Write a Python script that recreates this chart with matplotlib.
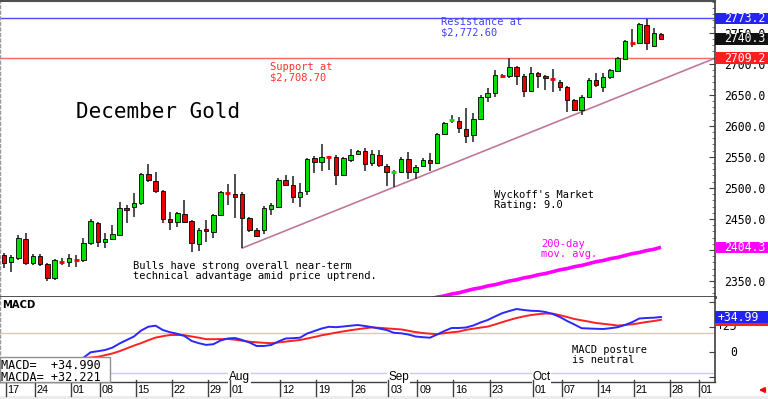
import numpy as np
import matplotlib
matplotlib.use('Agg')
import matplotlib.pyplot as plt
import matplotlib.transforms as mtransforms
from matplotlib.patches import Rectangle
from matplotlib.lines import Line2D
from matplotlib.ticker import MultipleLocator

W, H = 768, 399
MONO = 'DejaVu Sans Mono'
SANS = 'Liberation Sans'

# trading-day index of each date tick (Jun 17 = 0)
tick_idx = [0, 4, 9, 13, 18, 23, 28, 31, 38, 43, 48, 53, 57, 62, 67, 73, 77, 82, 87, 92, 96]
tick_lbl = ['17', '24', '01', '08', '15', '22', '29', '01', '12', '19', '26',
            '03', '09', '16', '23', '01', '07', '14', '21', '28', '01']
month_idx = [31, 53, 73]
month_lbl = ['Aug', 'Sep', 'Oct']

opens = [2392, 2380, 2387, 2418, 2379, 2390, 2377, 2355, 2381, 2380,
         2386, 2384, 2411, 2443, 2413, 2418, 2424, 2468, 2469, 2476,
         2522, 2511, 2495, 2450, 2445, 2458, 2446, 2409, 2434, 2429,
         2456, 2493, 2490, 2490, 2451, 2432, 2432, 2466, 2469, 2513,
         2505, 2485, 2495, 2548, 2542, 2550, 2550, 2521, 2545, 2555,
         2559, 2540, 2553, 2535, 2525, 2526, 2547, 2526, 2535, 2545,
         2540, 2587, 2607, 2608, 2595, 2585, 2611, 2646, 2653, 2683,
         2680, 2695, 2680, 2656, 2685, 2680, 2676, 2671, 2663, 2642,
         2626, 2647, 2674, 2663, 2679, 2688, 2708, 2736, 2734, 2763,
         2729, 2748]
highs = [2395, 2392, 2424, 2427, 2393, 2393, 2379, 2385, 2387, 2393,
         2392, 2419, 2450, 2445, 2427, 2440, 2477, 2472, 2492, 2524,
         2538, 2526, 2497, 2461, 2461, 2480, 2448, 2435, 2448, 2458,
         2495, 2506, 2522, 2493, 2453, 2435, 2471, 2476, 2516, 2521,
         2519, 2508, 2548, 2551, 2571, 2551, 2553, 2550, 2563, 2561,
         2564, 2561, 2561, 2538, 2529, 2550, 2558, 2537, 2548, 2556,
         2588, 2606, 2618, 2614, 2629, 2621, 2650, 2661, 2690, 2684,
         2709, 2696, 2684, 2695, 2686, 2682, 2692, 2674, 2664, 2643,
         2650, 2677, 2685, 2685, 2692, 2711, 2738, 2756, 2766, 2772.6,
         2758, 2750]
lows = [2371, 2364, 2384, 2376, 2376, 2374, 2350, 2351, 2376, 2372,
        2372, 2380, 2408, 2405, 2403, 2416, 2422, 2443, 2453, 2472,
        2509, 2492, 2443, 2432, 2437, 2443, 2397, 2398, 2413, 2419,
        2455, 2472, 2451, 2403, 2429, 2421, 2426, 2456, 2467, 2503,
        2476, 2469, 2489, 2524, 2527, 2529, 2505, 2519, 2542, 2553,
        2527, 2535, 2534, 2503, 2501, 2524, 2514, 2514, 2534, 2527,
        2538, 2585, 2605, 2588, 2572, 2574, 2609, 2638, 2647, 2677,
        2677, 2666, 2647, 2655, 2661, 2658, 2655, 2656, 2622, 2624,
        2618, 2645, 2663, 2655, 2676, 2687, 2706, 2727, 2733, 2722,
        2727, 2738]
closes = [2379, 2389, 2419, 2379, 2390, 2377, 2355, 2384, 2380, 2387,
          2384, 2411, 2447, 2413, 2418, 2426, 2468, 2464, 2476, 2522,
          2513, 2495, 2450, 2445, 2459, 2445, 2411, 2432, 2430, 2456,
          2493, 2491, 2485, 2451, 2432, 2422, 2468, 2472, 2513, 2505,
          2485, 2493, 2547, 2542, 2550, 2549, 2521, 2548, 2553, 2559,
          2538, 2555, 2537, 2526, 2526, 2547, 2526, 2534, 2545, 2540,
          2587, 2605, 2609, 2597, 2584, 2611, 2647, 2653, 2682, 2681,
          2695, 2680, 2656, 2685, 2680, 2677, 2675, 2663, 2642, 2626,
          2647, 2674, 2666, 2679, 2690, 2709, 2737, 2734, 2764, 2734,
          2750, 2740.3]

# 200-day moving average, from day 58 on
ma_start = 58
ma200 = [2318, 2321, 2324, 2326, 2329, 2331, 2334, 2337, 2339, 2342,
         2344, 2347, 2350, 2352, 2355, 2357, 2360, 2362, 2365, 2368,
         2370, 2373, 2375, 2378, 2381, 2383, 2386, 2388, 2391, 2394,
         2396, 2399, 2401, 2404.3]

macd = [-28, -27, -25, -24, -22, -20, -20, -18, -16, -13,
        -10, -5.7, -0.3, 0.8, 2, 4.3, 8.5, 12, 15.5, 21.5,
        25.3, 26.3, 22, 19.8, 18.2, 16, 11, 8.8, 7.1, 7.8,
        11.5, 13.5, 14, 12, 9.5, 6, 6, 7, 10.5, 13.5,
        13.8, 14.3, 18.5, 21, 23.5, 25.2, 24.8, 25.5, 26.3, 27,
        26, 24.8, 23.4, 22, 19.2, 18.7, 17.5, 15.5, 14.8, 14.3,
        17.5, 21, 24, 24, 24.5, 26.5, 29.5, 32, 35.5, 38.8,
        41, 43, 42, 41.2, 41, 40, 38, 35, 31, 27.5,
        23.8, 23.5, 23.2, 23, 23.8, 24.8, 27, 29.8, 33.5, 34,
        34.3, 34.99]
macda = [-22, -21, -20, -19, -18, -17, -16, -14, -12, -10,
         -8, -6.3, -5.5, -4.8, -3.2, -1.5, 0.8, 3.6, 6.4, 8.9,
         11.8, 14.4, 15.8, 17, 17, 16.8, 15.5, 14.3, 12.8, 12.8,
         12.9, 13, 12.3, 11.2, 10.3, 9.7, 9.2, 8.8, 9.5, 10.4,
         11.2, 12, 13.5, 15, 16.7, 18, 19.4, 20.6, 21.8, 22.8,
         23.8, 24.6, 24.2, 23.6, 23.1, 22.6, 21.3, 19.9, 19, 18.3,
         17.9, 18.8, 19.7, 20.4, 22.2, 23.3, 24.4, 25.4, 27.5, 29.8,
         32, 34, 35.6, 37, 37.8, 38.5, 38.4, 36.8, 35, 33,
         31.7, 30.4, 29, 28.2, 27.4, 26.4, 27.1, 27.7, 28.8, 30,
         31, 32.221]

resistance = 2773.2
support = 2709.2
trend_x = [33, 98.5]
trend_y = [2403, 2709]

price_marks = [2773.2, 2740.3, 2709.2, 2404.3]
price_cols = ['#2323F5', '#111111', '#FF1E1E', '#FF00FF']


def fx(px):
    return px / W


def fy(py):
    return 1 - py / H


fig = plt.figure(figsize=(W / 100, H / 100), dpi=100)
ax = fig.add_axes([0, fy(297), fx(715), (297 - 0.5) / H])
am = fig.add_axes([0, fy(381.5), fx(715), (381.5 - 297) / H])

# candles
idx = np.arange(len(closes))
o = np.array(opens, float)
c = np.array(closes, float)
hi = np.array(highs, float)
lo = np.array(lows, float)
body = np.abs(c - o)
doji = body < 3
fill = np.where(c >= o, '#00E000', '#E80000')

ax.vlines(idx, lo, hi, color='#303030', lw=1.2, zorder=2)
nd = ~doji
ax.bar(idx[nd], body[nd], bottom=np.minimum(o, c)[nd], width=0.62,
       color=fill[nd], edgecolor='black', lw=0.6, zorder=3)
ax.hlines(c[doji], idx[doji] - 0.36, idx[doji] + 0.36, colors=fill[doji], lw=2, zorder=3)

ax.axhline(resistance, color='#4B4BFF', lw=1, zorder=1)
ax.axhline(support, color='#FF6464', lw=1, zorder=1)
ax.plot(trend_x, trend_y, color='#C07898', lw=1.2, zorder=1)
ax.plot(np.arange(ma_start, ma_start + len(ma200)), ma200, color='#FF00FF', lw=2.6,
        solid_capstyle='butt', zorder=2)

ax.set_xlim(-0.554, 98.48)
ax.set_ylim(2324.2, 2801.9)
ax.set_xticks([])
ax.yaxis.tick_right()
yt = np.arange(2350, 2751, 50)
ax.set_yticks(yt)
# 2400.0 sits fully under the 200-day value box in the original
ax.set_yticklabels(['' if v == 2400 else f'{v:.1f}' for v in yt], fontfamily=MONO)
ax.yaxis.set_minor_locator(MultipleLocator(10))
ax.tick_params(axis='y', which='major', direction='in', length=4, pad=6.5,
               labelsize=8.3, color='#404040')
ax.tick_params(axis='y', which='minor', direction='in', length=2, color='#606060')
ax.spines['top'].set(color='#505050', lw=1.5)
ax.spines['bottom'].set(color='#404040', lw=2)
ax.spines['right'].set(color='#404040', lw=1.2)
ax.spines['left'].set(color='#999999', lw=1, linestyle=(0, (2, 2)))

tr_r = mtransforms.blended_transform_factory(fig.transFigure, ax.transData)
for v, col in zip(price_marks, price_cols):
    fig.add_artist(Rectangle((fx(715), v - 9.3), fx(768) - fx(715), 18.6, transform=tr_r,
                             facecolor=col, edgecolor='none', zorder=5))
    fig.text(fx(724), v, f'{v:.1f}', transform=tr_r, color='white', ha='left',
             va='center', fontsize=8.3, fontfamily=MONO, zorder=6)

# MACD panel
am.axhline(19, color='#FFB4B4', lw=0.9, zorder=1)
am.axhline(-21, color='#C8C8FF', lw=1, zorder=1)
am.plot(idx, macd, color='#2828FF', lw=1.4, zorder=3)
am.plot(idx, macda, color='#FF2020', lw=1.4, zorder=2)
am.set_xlim(-0.554, 98.48)
am.set_ylim(-29.5, 55)
am.set_xticks([])
am.yaxis.tick_right()
am.set_yticks([-25, 0, 25, 50])
am.set_yticklabels([])
am.tick_params(axis='y', direction='in', length=4, color='#404040')
am.spines['top'].set_visible(False)
am.spines['bottom'].set(color='#404040', lw=1)
am.spines['right'].set(color='#404040', lw=1.2)
am.spines['left'].set(color='#999999', lw=1, linestyle=(0, (2, 2)))

for mi, ml in zip(month_idx, month_lbl):
    am.text(mi + 0.2, -25, ml, ha='left', va='center', fontsize=8.5, fontfamily=SANS,
            bbox=dict(facecolor='white', edgecolor='none', pad=0.6), zorder=4)

tr_m = mtransforms.blended_transform_factory(fig.transFigure, am.transData)
fig.text(fx(737), 0, '0', transform=tr_m, ha='right', va='center', fontsize=8.3, fontfamily=MONO)
fig.text(fx(737), 25, '+25', transform=tr_m, ha='right', va='center', fontsize=8.3, fontfamily=MONO)
for v, col in [(32.221, '#FF1E1E'), (34.99, '#2323F5')]:
    fig.add_artist(Rectangle((fx(715), v - 5.8), fx(768) - fx(715), 11.6, transform=tr_m,
                             facecolor=col, edgecolor='none', zorder=5))
fig.text(fx(717), 34.99, '+34.99', transform=tr_m, color='white', ha='left', va='center',
         fontsize=8.3, fontfamily=MONO, zorder=6)

fig.text(fx(2), fy(299.5), 'MACD', ha='left', va='top', fontsize=7.2, fontweight='bold',
         fontfamily='DejaVu Sans')
fig.add_artist(Rectangle((0, fy(382)), fx(110), (382 - 357) / H, transform=fig.transFigure,
                         facecolor='white', edgecolor='#909090', lw=1, zorder=5))
fig.text(fx(1), fy(359), 'MACD=  +34.990\nMACDA= +32.221', ha='left', va='top',
         fontsize=8.5, fontfamily=MONO, linespacing=0.92, zorder=6)

# date row
tr_d = mtransforms.blended_transform_factory(am.transData, fig.transFigure)
for t, lb in zip(tick_idx, tick_lbl):
    fig.add_artist(Line2D([t + 0.25, t + 0.25], [fy(379.5), fy(396)], transform=tr_d,
                          color='#404040', lw=1))
    fig.text(t + 0.5, fy(390), lb, transform=tr_d, ha='left', va='center',
             fontsize=7.8, fontfamily=SANS)
fig.add_artist(Rectangle((0, 0), 1, 3.5 / H, transform=fig.transFigure,
                         facecolor='#ECECEC', edgecolor='none', zorder=0))
ax.annotate('', xy=(fx(756), fy(390)), xycoords='figure fraction', xytext=(fx(768), fy(390)),
            textcoords='figure fraction',
            arrowprops=dict(arrowstyle='-|>', color='#FF0000', lw=1.5, mutation_scale=7),
            annotation_clip=False)

# notes
note = dict(ha='left', va='top', fontsize=7.5, fontfamily=MONO, linespacing=1.05)
fig.text(fx(76), fy(101.5), 'December Gold', ha='left', va='top', fontsize=15, fontfamily=MONO)
fig.text(fx(441), fy(17), 'Resistance at\n$2,772.60', color='#4040FF', **note)
fig.text(fx(270), fy(62.5), 'Support at\n$2,708.70', color='#FF3030', **note)
fig.text(fx(494), fy(190), "Wyckoff's Market\nRating: 9.0", color='black', **note)
fig.text(fx(541), fy(238.5), '200-day\nmov. avg.', color='#FF00FF', **note)
fig.text(fx(133), fy(261), 'Bulls have strong overall near-term\n'
         'technical advantage amid price uptrend.', color='black', **note)
fig.text(fx(572), fy(345), 'MACD posture\nis neutral', color='black', **note)

fig.savefig('out.png', dpi=100)
